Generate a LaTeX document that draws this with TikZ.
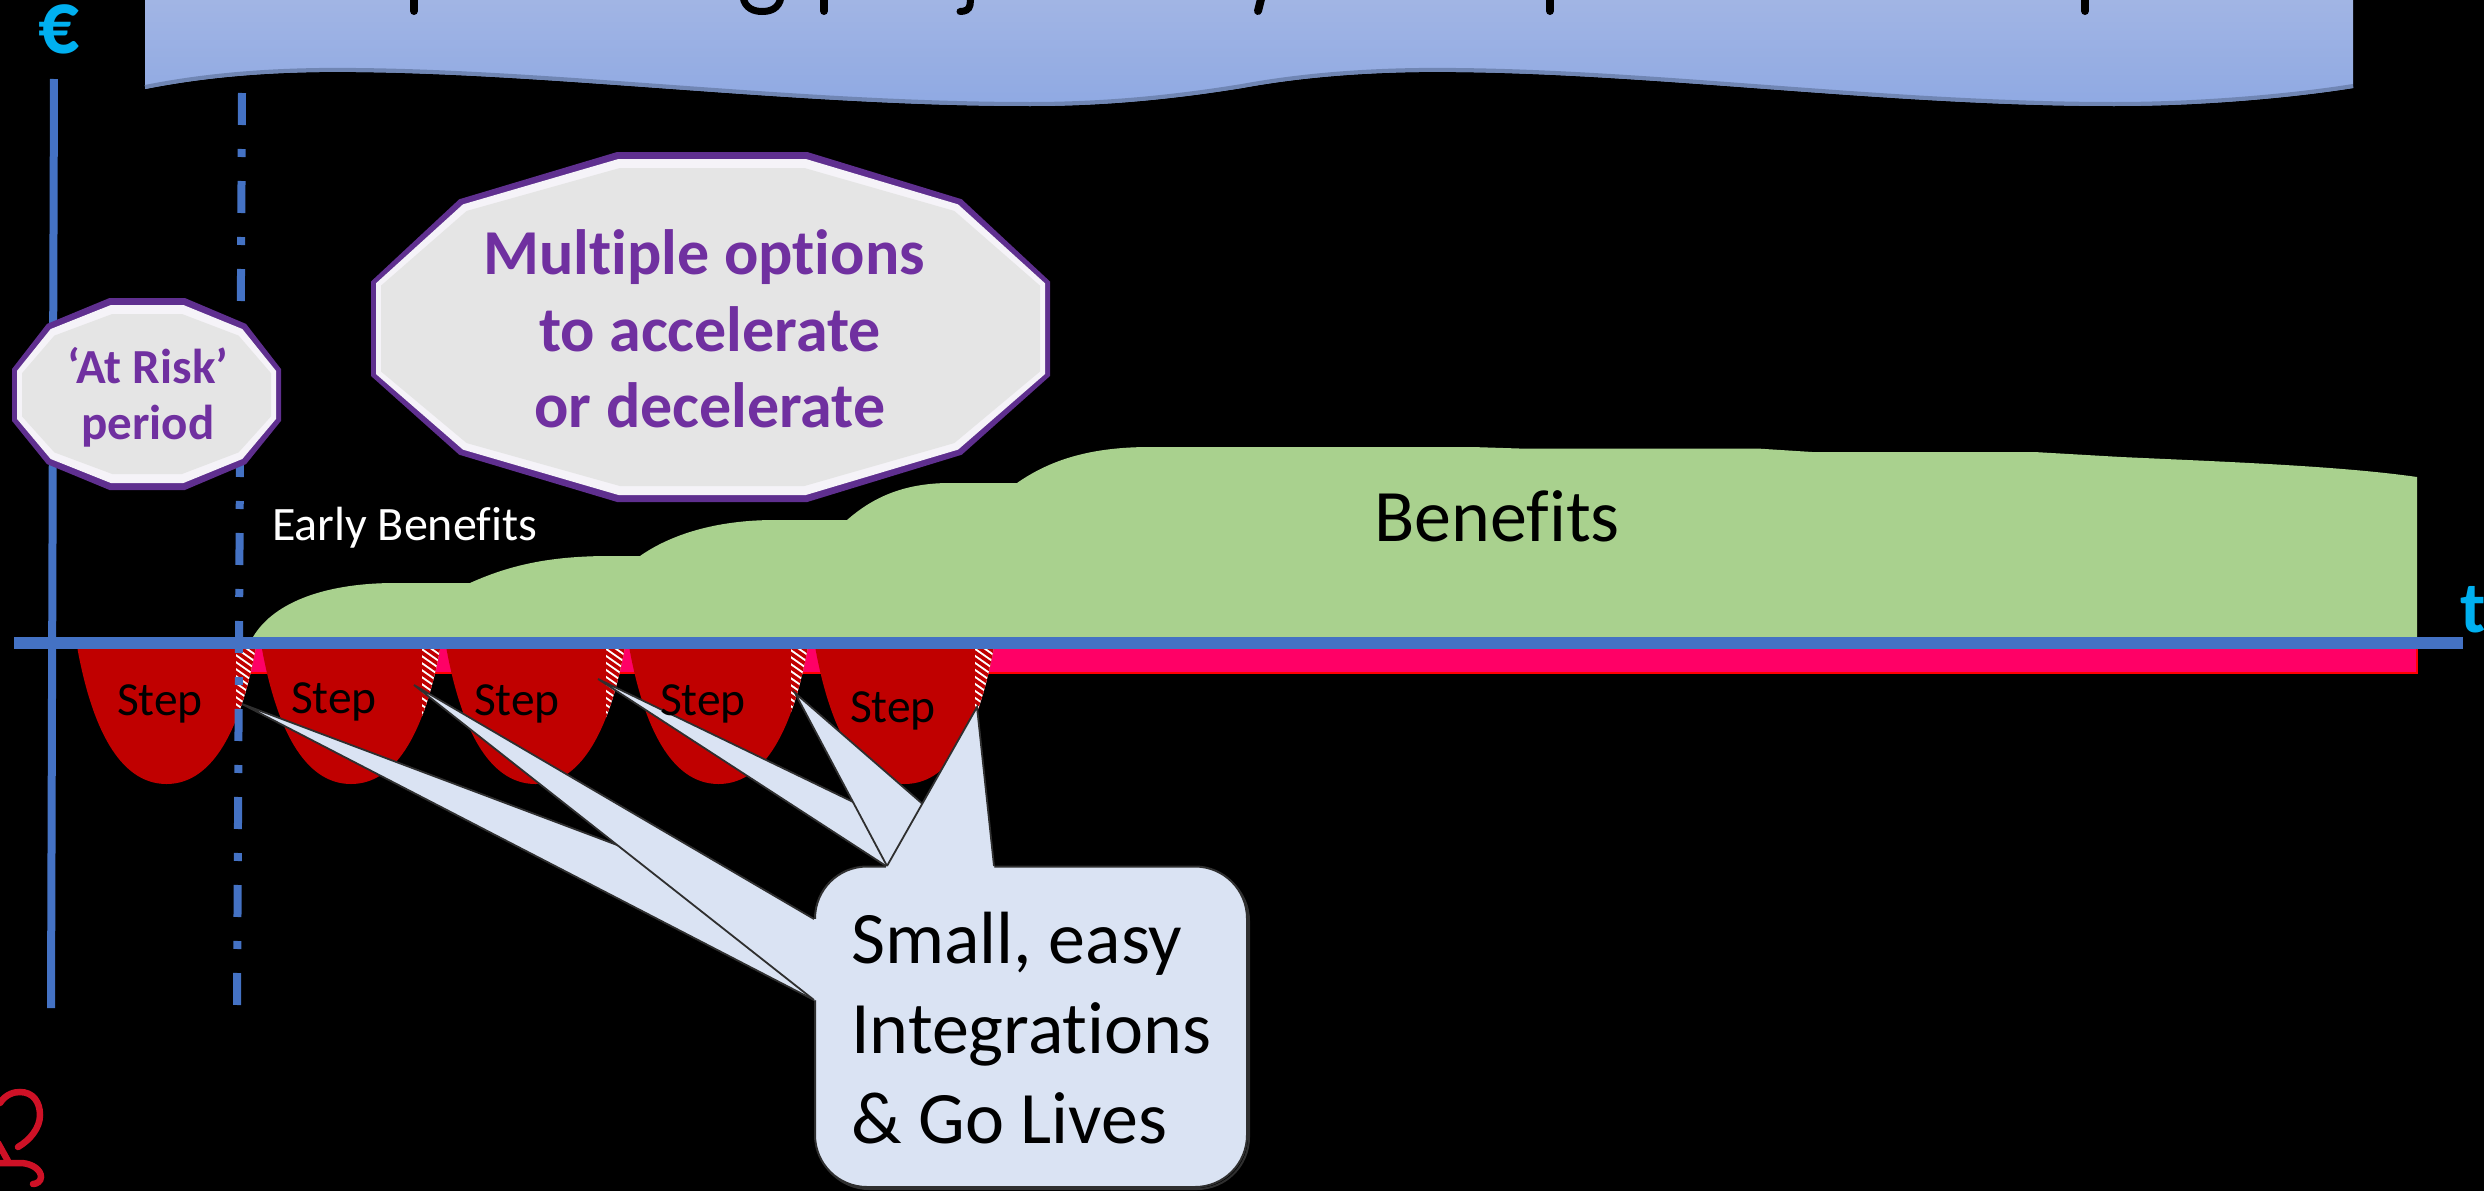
\documentclass[tikz,border=0pt]{standalone}
\usepackage{fontspec}
\setmainfont{Carlito}[Ligatures=NoCommon]
\definecolor{axisblue}{HTML}{4472C4}
\definecolor{cyanlabel}{HTML}{00B0F0}
\definecolor{benefit}{HTML}{A9D18E}
\definecolor{stepred}{HTML}{C00000}
\definecolor{bandpink}{HTML}{FF0066}
\definecolor{calloutfill}{HTML}{DAE3F3}
\definecolor{calloutline}{HTML}{2F2F2F}
\definecolor{purpletext}{HTML}{7030A0}
\definecolor{purpleedge}{HTML}{5F2F8F}
\definecolor{logored}{HTML}{CE1126}
\definecolor{bannertop}{HTML}{A3B6E4}
\definecolor{bannerbottom}{HTML}{8FA9E3}
\definecolor{banneredge}{HTML}{7086B4}
\newcommand{\UnitDodeca}{(-.275,-1)--(.285,-1)--(.74,-.73)--(1,-.26)--(1,.28)--(.74,.73)--(.285,1)--(-.275,1)--(-.74,.73)--(-1,.28)--(-1,-.26)--(-.74,-.73)--cycle}
\newcommand{\DodecaAt}[4]{%
  \fill[purpleedge,shift={(#1,#2)},xscale=#3,yscale=#4] \UnitDodeca;
  \pgfmathsetmacro{\rxa}{#3-5}\pgfmathsetmacro{\rya}{#4-7}
  \pgfmathsetmacro{\rxb}{#3-10}\pgfmathsetmacro{\ryb}{#4-16}
  \fill[white!94!purpleedge,shift={(#1,#2)},xscale=\rxa,yscale=\rya] \UnitDodeca;
  \fill[gray!20,shift={(#1,#2)},xscale=\rxb,yscale=\ryb] \UnitDodeca;
}
\tikzset{
  wedgeedge/.style={draw=calloutline,line width=1.8pt,line join=miter},
  wedgefill/.style={fill=calloutfill,draw=none},
  plainlabel/.style={inner sep=0pt,outer sep=0pt,anchor=base},
  steplabel/.style={plainlabel,text=black,font=\fontsize{47.5}{56}\selectfont},
  bigpurple/.style={inner sep=0pt,align=center,text=purpletext,font=\bfseries\fontsize{64}{76.5}\selectfont},
  smallpurple/.style={inner sep=0pt,align=center,text=purpletext,font=\bfseries\fontsize{49}{56}\selectfont},
  axislabel/.style={plainlabel,text=cyanlabel,font=\bfseries\fontsize{73}{80}\selectfont},
  titlemark/.style={draw=black,line width=8pt,line cap=round},
  logostroke/.style={draw=logored,line width=6.5pt,line cap=round},
}
\begin{document}
\begin{tikzpicture}[x=1pt,y=-1pt]
\useasboundingbox (0,0) rectangle (2484,1191);
\clip (0,0) rectangle (2484,1191);
\fill[black] (0,0) rectangle (2484,1191);

% banner
\shade[top color=bannertop,bottom color=bannerbottom]
  (145,-10) -- (145,89) .. controls (210,76) and (280,71) .. (356,72)
  .. controls (560,74) and (800,106) .. (1030,106)
  .. controls (1110,106) and (1180,98) .. (1242,88)
  .. controls (1307,76) and (1380,71) .. (1456,72)
  .. controls (1660,74) and (1890,106) .. (2114,106)
  .. controls (2200,106) and (2290,98) .. (2353,88) -- (2353,-10) -- cycle;
\draw[draw=banneredge,line width=4pt]
  (145,87) .. controls (210,74) and (280,69) .. (356,70)
  .. controls (560,72) and (800,104) .. (1030,104)
  .. controls (1110,104) and (1180,96) .. (1242,86)
  .. controls (1307,74) and (1380,69) .. (1456,70)
  .. controls (1660,72) and (1890,104) .. (2114,104)
  .. controls (2200,104) and (2290,96) .. (2353,86);

% cut-off title: only its descenders are in the frame
\draw[titlemark] (414,-5) -- (414,11);
\draw[titlemark,line width=7pt,line cap=butt] (743,-3) .. controls (745,9) and (755,11.5) .. (762,11.5) .. controls (770,11.5) and (779,9) .. (781,-3);
\draw[titlemark] (824,-5) -- (824,11);
\draw[titlemark,line width=7pt] (971,-5) -- (970,5) .. controls (969,10) and (965,11.5) .. (960,11.5);
\draw[titlemark] (1262,-5) -- (1258,11);
\draw[titlemark] (1550,-5) -- (1550,11);
\draw[titlemark] (2085,-5) -- (2085,11);

% benefits
\fill[benefit] (253,645) -- (253,637) .. controls (275,600) and (330,583) .. (395,583) -- (470,583)
  .. controls (510,565) and (550,556) .. (610,556) -- (640,556)
  .. controls (670,535) and (715,520) .. (775,520) -- (847,520)
  .. controls (870,500) and (900,483) .. (950,483) -- (1017,483)
  .. controls (1050,460) and (1090,447) .. (1150,447) -- (1472,447) -- (1519,448.5) -- (1757,448.5) -- (1812,452) -- (2034,452) -- (2121,457)
  .. controls (2230,462) and (2340,466) .. (2417,477) -- (2417,645) -- cycle;

% pink band
\draw[fill=bandpink,draw=red,line width=2pt] (240,648) rectangle (2417,673);

% steps
\foreach \c/\h in {166.5/69.5,351/71,535.5/70.5,718.5/72.5,904.5/70.5}{
  \begin{scope}[shift={(\c,0)}]
    \fill[stepred] (-89,640) -- (-89,649) .. controls (-75,725) and (-48,784) .. (0,784)
      .. controls (48,784) and (75,725) .. (89,649) -- (89,640) -- cycle;
    \begin{scope}
      \clip (-89,640) -- (-89,649) .. controls (-75,725) and (-48,784) .. (0,784)
        .. controls (48,784) and (75,725) .. (89,649) -- (89,640) -- cycle;
      \clip (\h,630) rectangle (100,800);
      \fill[white] (\h,630) rectangle (100,800);
      \foreach \yy in {610,617,...,740}{
        \draw[stepred,line width=3.6pt] (60,\yy) -- (100,\yy+28);
      }
    \end{scope}
  \end{scope}
}

% axes
\draw[axisblue,line width=8pt] (54,79) -- (51,1008);
\draw[axisblue,line width=8pt,dash pattern=on 32pt off 24pt on 8pt off 24pt] (242,93) -- (237,1005);
\draw[axisblue,line width=12pt] (14,643) -- (2463,643);

% dodecagons
\DodecaAt{710.5}{327}{339.5}{175}
\DodecaAt{146.5}{394}{134.5}{96}

% callout
\draw[calloutline,line width=2pt,rounded corners=52pt] (817,869) rectangle (1249,1189);
\draw[fill=calloutfill,draw=calloutline,line width=2pt,rounded corners=52pt] (815,866.5) rectangle (1247,1187);
\coordinate (tipA) at (242,704);
\coordinate (tipB) at (414,685);
\coordinate (tipC) at (598,679);
\coordinate (tipD) at (795,693);
\coordinate (tipE) at (977,707);
\coordinate (ab1) at (814,919);
\coordinate (ab2) at (814,1000);
\coordinate (cb1) at (886,866);
\coordinate (cb2) at (986,866);
\coordinate (eb1) at (887,866);
\coordinate (eb2) at (994,866);
% left wedges
\fill[wedgefill] (tipA) -- (ab1) -- ++(6,0) -- (820,1000) -- (ab2) -- cycle;
\draw[wedgeedge] (ab1) -- (tipA) -- (ab2);
\fill[wedgefill] (tipB) -- (ab1) -- ++(6,0) -- (820,1000) -- (ab2) -- cycle;
\draw[wedgeedge] (ab1) -- (tipB) -- (ab2);
% top wedges
\fill[wedgefill] (tipC) -- (cb1) -- ++(0,6) -- (986,872) -- (cb2) -- cycle;
\draw[wedgeedge] (cb1) -- (tipC) -- (cb2);
\fill[wedgefill] (tipD) -- (eb1) -- ++(0,6) -- (994,872) -- (eb2) -- cycle;
\draw[wedgeedge] (eb1) -- (tipD) -- (eb2);
\fill[wedgefill] (tipE) -- (eb1) -- ++(0,6) -- (994,872) -- (eb2) -- cycle;
\draw[wedgeedge] (eb1) -- (tipE) -- (eb2);

% logo fragment
\draw[logostroke] (0,1103) .. controls (6,1094) and (14,1092) .. (20,1092) .. controls (33,1092) and (40,1102) .. (40,1115) .. controls (40,1128) and (30,1140) .. (18,1147);
\draw[logostroke] (-2,1143) -- (8,1161);
\draw[logostroke] (-2,1163) -- (22,1163) .. controls (33,1164) and (41,1170) .. (41,1177) .. controls (41,1181) and (37,1184) .. (33,1184);

% text
\node[axislabel,xscale=.9,font=\bfseries\fontsize{90}{92}\selectfont] (euro) at (59,53) {€};
\node[axislabel,anchor=base west] (tlabel) at (2460,632) {t};
\node[smallpurple] (risk) at (148,397) {‘At Risk’\\period};
\node[bigpurple] (options) at (710,329) {Multiple options\hspace*{12pt}\\to accelerate\\or decelerate};
\node[plainlabel,anchor=base west,text=white,font=\fontsize{48}{56}\selectfont] (early) at (272,540) {Early Benefits};
\node[plainlabel,text=black,font=\fontsize{74}{88}\selectfont] (benefits) at (1497,541) {Benefits};
\node[steplabel] (s1) at (160,715) {Step};
\node[steplabel] (s2) at (334,713) {Step};
\node[steplabel] (s3) at (517,715) {Step};
\node[steplabel] (s4) at (703,715) {Step};
\node[steplabel] (s5) at (893,722) {Step};
\node[inner sep=0pt,anchor=west,align=left,text=black,font=\fontsize{74}{90}\selectfont] (small) at (851,1028) {Small, easy\\Integrations\\\& Go Lives};
\end{tikzpicture}
\end{document}
